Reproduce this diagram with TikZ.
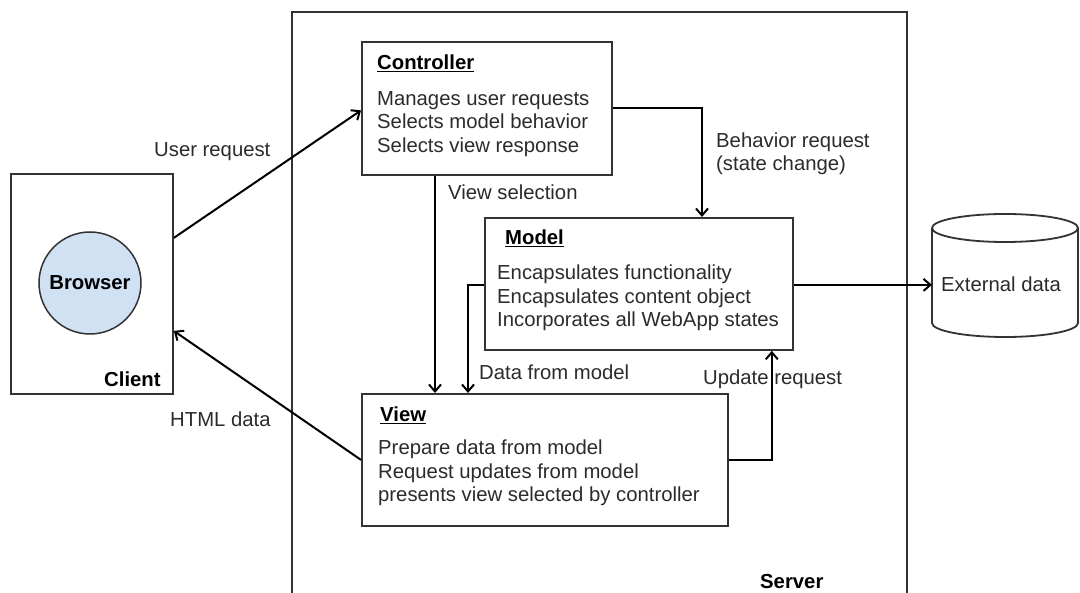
\documentclass[tikz,border=0pt]{standalone}
\usepackage{fontspec}
\setmainfont{Liberation Sans}
\usetikzlibrary{arrows.meta}
\definecolor{linegray}{HTML}{333333}
\definecolor{textgray}{HTML}{2B2B2B}
\definecolor{browserblue}{RGB}{207,225,243}
\begin{document}
\begin{tikzpicture}[x=1pt,y=-1pt,
  font=\fontsize{20.3}{23.5}\selectfont,
  box/.style={draw=linegray,line width=1.8pt,fill=white,rectangle,inner sep=0pt,anchor=north west},
  txt/.style={inner sep=0pt,anchor=base west,text=textgray,align=left},
  ttl/.style={inner sep=0pt,anchor=base west,text=black,font=\fontsize{20.3}{23.5}\selectfont\bfseries},
  arr/.style={draw=black,line width=2pt,-{Straight Barb[length=7pt,width=12pt,line width=2pt]}}]
\useasboundingbox (0,0) rectangle (1080,593);
\fill[white] (0,0) rectangle (1080,593);
% server container
\draw[linegray,line width=1.8pt] (292,593) -- (292,12) -- (907,12) -- (907,593);
\node[ttl] (serverlbl) at (760,588) {Server};
% client
\node[box,minimum width=162pt,minimum height=220pt] (client) at (10,173) {};
\node[circle,draw=linegray,line width=1.5pt,fill=browserblue,minimum size=102pt,inner sep=0pt,font=\fontsize{20.3}{23.5}\selectfont\bfseries] (browser) at (90,283) {Browser};
\node[ttl] (clientlbl) at (104,387) {Client};
% controller
\node[box,minimum width=250pt,minimum height=133pt] (ctrl) at (361,41) {};
\node[ttl] (ctrlt) at (377,70) {\underline{Controller}};
\node[txt] (ctrl1) at (377,105.5) {Manages user requests};
\node[txt] (ctrl2) at (377,129) {Selects model behavior};
\node[txt] (ctrl3) at (377,152.5) {Selects view response};
% model
\node[box,minimum width=308pt,minimum height=132pt] (model) at (484,217) {};
\node[ttl] (modelt) at (505,245) {\underline{Model}};
\node[txt] (model1) at (497,280) {Encapsulates functionality};
\node[txt] (model2) at (497,303.5) {Encapsulates content object};
\node[txt] (model3) at (497,327) {Incorporates all WebApp states};
% view
\node[box,minimum width=366pt,minimum height=132pt] (view) at (361,393) {};
\node[ttl] (viewt) at (380,421.5) {\underline{View}};
\node[txt] (view1) at (378,455) {Prepare data from model};
\node[txt] (view2) at (378,478.5) {Request updates from model};
\node[txt] (view3) at (378,502) {presents view selected by controller};
% external data cylinder
\fill[white] (932,228) -- (932,323) arc[start angle=180,end angle=360,x radius=73pt,y radius=14pt] -- (1078,228) -- cycle;
\draw[linegray,line width=1.8pt] (932,228) -- (932,323) arc[start angle=180,end angle=360,x radius=73pt,y radius=14pt] -- (1078,228);
\draw[linegray,line width=1.8pt,fill=white] (1005,228) ellipse[x radius=73pt,y radius=14pt];
\node[inner sep=0pt,minimum width=146pt,minimum height=109pt,anchor=north west] (db) at (932,228) {};
\node[txt] (dblbl) at (941,292) {External data};
% connectors
\draw[arr] ([yshift=46pt]client.east) -- ([yshift=-2pt]ctrl.west);
\node[txt] (lbluser) at (154,157) {User request};
\draw[arr] (view.west) -- ([yshift=-47pt]client.east);
\node[txt] (lblhtml) at (170,427) {HTML data};
\draw[arr] ([xshift=74pt]ctrl.south west) -- ([xshift=74pt]view.north west);
\node[txt] (lblvsel) at (448,200) {View selection};
\draw[arr] (ctrl.east) -| ([xshift=218pt]model.north west);
\node[txt] (lblbeh1) at (716,147.5) {Behavior request};
\node[txt] (lblbeh2) at (716,171) {(state change)};
\draw[arr] ([yshift=-1pt]model.west) -| ([xshift=107pt]view.north west);
\node[txt] (lbldata) at (479,380) {Data from model};
\draw[arr] (view.east) -| ([xshift=-22pt]model.south east);
\node[txt] (lblupd) at (703,385) {Update request};
\draw[arr] ([yshift=-1pt]model.east) -- ([yshift=-1pt]model.east -| db.west);
\end{tikzpicture}
\end{document}
